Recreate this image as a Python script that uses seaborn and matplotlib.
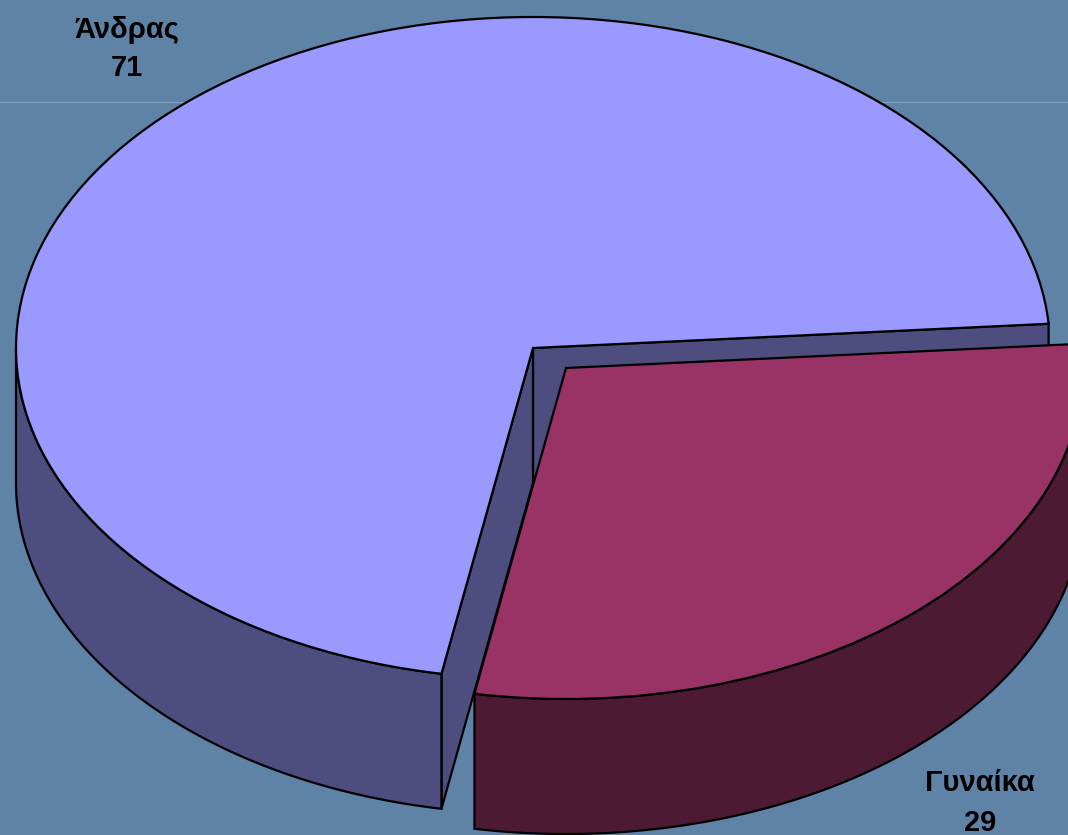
import matplotlib
matplotlib.use("Agg")
import matplotlib.pyplot as plt
import seaborn as sns
import numpy as np

# data
fylo = ["Άνδρας", "Γυναίκα"]
plithos = [71, 29]

# colours
top_colors = ["#9999ff", "#993366"]
side_colors = ["#4d4d80", "#4d1a33"]
bg_color = "#5f82a7"

W, H = 1068, 835
# ellipse of the pie in pixels
CX, CY = 533, 348
RX, RY = 517, 331
DEPTH = 135 / RY

sns.set_theme(style="white")
plt.rcParams["font.family"] = ["Liberation Sans", "DejaVu Sans"]

fig = plt.figure(figsize=(W / 100, H / 100), dpi=100, facecolor=bg_color)
ax = fig.add_axes([0, 0, 1, 1])
ax.set_facecolor(bg_color)

wedges, _ = ax.pie(plithos, colors=top_colors, startangle=4.2,
                   wedgeprops={"edgecolor": "black", "linewidth": 1.6})
# squash the circle into the tilted ellipse
ax.set_aspect("auto")
ax.set_xlim(-CX / RX, (W - CX) / RX)
ax.set_ylim(-(H - CY) / RY, CY / RY)
ax.axis("off")
ax.patch.set_visible(False)

blue, red = wedges
# pull the small slice out, right and down
red.set_center((33 / RX, -20 / RY))


def outer_wall(wedge, t1, t2, color, z):
    t = np.radians(np.linspace(t1, t2, 240))
    x = wedge.center[0] + wedge.r * np.cos(t)
    y = wedge.center[1] + wedge.r * np.sin(t)
    ax.fill(np.r_[x, x[::-1]], np.r_[y, y[::-1] - DEPTH], facecolor=color,
            edgecolor="black", linewidth=1.6, zorder=z)


def cut_face(wedge, angle, color, z):
    a = np.radians(angle)
    cx, cy = wedge.center
    px, py = cx + wedge.r * np.cos(a), cy + wedge.r * np.sin(a)
    ax.fill([cx, px, px, cx], [cy, py, py - DEPTH, cy - DEPTH], facecolor=color,
            edgecolor="black", linewidth=1.6, zorder=z)


cut_face(blue, blue.theta1, side_colors[0], 2)
cut_face(blue, blue.theta2, side_colors[0], 2)
outer_wall(blue, 180, blue.theta2, side_colors[0], 2)
blue.set_zorder(3)
outer_wall(red, red.theta1, 360, side_colors[1], 4)
red.set_zorder(5)

# faint line of the slide background
ax.axhline((CY - 102) / RY, color="#84a0bd", linewidth=0.8, zorder=1)

# labels
label_pos = [(127, 30, 68), (980, 783, 823)]
for name, val, (x, y1, y2) in zip(fylo, plithos, label_pos):
    fig.text(x / W, 1 - y1 / H, name, ha="center", va="center", fontsize=21,
             fontweight="bold", color="black", zorder=10)
    fig.text(x / W, 1 - y2 / H, str(val), ha="center", va="center", fontsize=21,
             fontweight="bold", color="black", zorder=10)

fig.savefig("out.png", dpi=100, facecolor=bg_color)
